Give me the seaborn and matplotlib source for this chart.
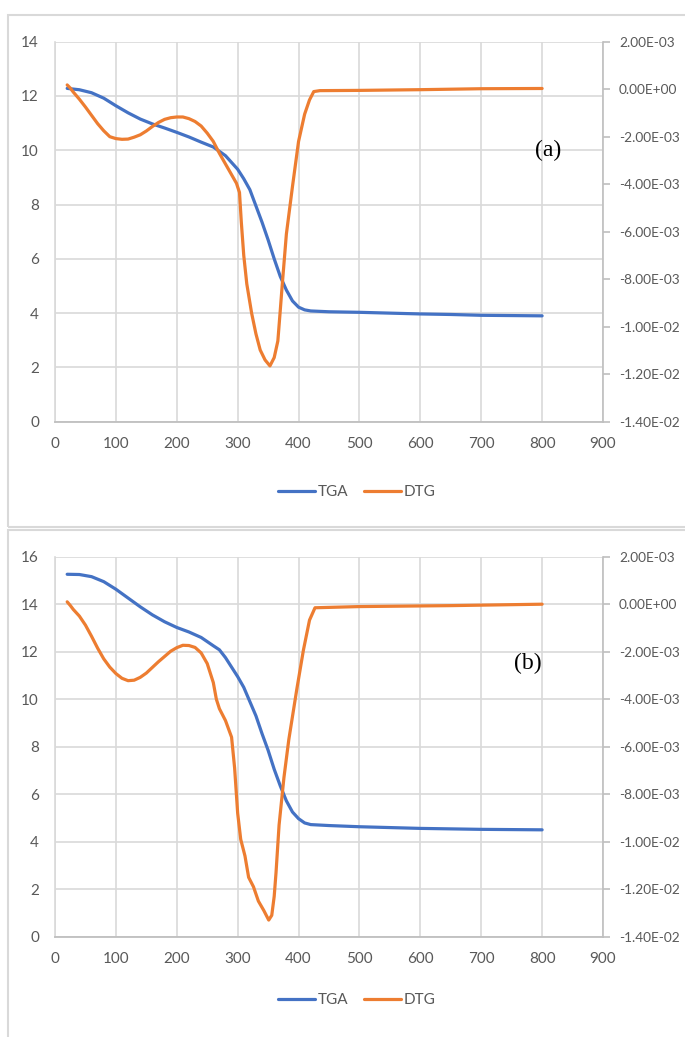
import numpy as np
import matplotlib
matplotlib.use("Agg")
import matplotlib.pyplot as plt
from matplotlib.lines import Line2D
from matplotlib.patches import Rectangle
from matplotlib.ticker import FuncFormatter, MultipleLocator
import seaborn as sns

# ---- data: panel (a) ----
temp_tga_a = [20, 40, 60, 80, 100, 120, 140, 160, 180, 200, 220, 240, 260, 280, 300,
              310, 320, 330, 340, 350, 360, 370, 380, 390, 400, 410, 420, 450, 500,
              550, 600, 650, 700, 750, 800]
tga_a = [12.28, 12.23, 12.12, 11.92, 11.64, 11.38, 11.15, 10.97, 10.82, 10.66, 10.49,
         10.30, 10.12, 9.80, 9.30, 8.95, 8.55, 7.95, 7.35, 6.70, 6.00, 5.35, 4.85, 4.45,
         4.22, 4.12, 4.08, 4.05, 4.03, 4.00, 3.97, 3.95, 3.92, 3.91, 3.90]

temp_dtg_a = [20, 25, 30, 40, 50, 60, 70, 80, 90, 100, 110, 120, 130, 140, 150, 160,
              170, 180, 190, 200, 210, 220, 230, 240, 250, 260, 270, 280, 290, 298,
              303, 306, 310, 315, 323, 330, 337, 345, 353, 360, 366, 370, 373, 380,
              390, 400, 410, 418, 425, 435, 500, 600, 700, 800]
dtg_a_milli = [0.18, 0.05, -0.12, -0.42, -0.75, -1.10, -1.45, -1.75, -2.00, -2.08, -2.11,
               -2.10, -2.02, -1.92, -1.76, -1.57, -1.40, -1.27, -1.20, -1.17, -1.17,
               -1.24, -1.36, -1.55, -1.85, -2.20, -2.70, -3.15, -3.60, -3.96, -4.35,
               -5.60, -7.00, -8.20, -9.44, -10.30, -10.98, -11.40, -11.65, -11.30,
               -10.60, -9.30, -8.30, -6.10, -4.10, -2.20, -1.05, -0.45, -0.10, -0.06,
               -0.05, -0.02, 0.02, 0.03]

# ---- data: panel (b) ----
temp_tga_b = [20, 40, 60, 80, 100, 120, 140, 160, 180, 200, 220, 240, 260, 270, 280,
              290, 300, 310, 320, 330, 340, 350, 360, 370, 380, 390, 400, 410, 420,
              450, 500, 600, 700, 800]
tga_b = [15.26, 15.25, 15.16, 14.95, 14.63, 14.26, 13.89, 13.55, 13.26, 13.02, 12.83,
         12.60, 12.25, 12.08, 11.75, 11.35, 10.95, 10.50, 9.90, 9.30, 8.55, 7.85, 7.05,
         6.35, 5.72, 5.25, 4.97, 4.79, 4.72, 4.68, 4.63, 4.56, 4.52, 4.50]

temp_dtg_b = [20, 25, 30, 40, 50, 60, 70, 80, 90, 100, 110, 120, 130, 140, 150, 160,
              170, 180, 190, 200, 210, 220, 230, 240, 250, 260, 265, 270, 280, 290,
              295, 300, 305, 312, 318, 326, 334, 343, 351, 356, 360, 363, 368, 376,
              384, 397, 408, 418, 427, 500, 650, 800]
dtg_b_milli = [0.10, -0.05, -0.22, -0.50, -0.88, -1.35, -1.85, -2.30, -2.65, -2.92,
               -3.12, -3.22, -3.20, -3.08, -2.90, -2.66, -2.42, -2.20, -1.98, -1.83,
               -1.73, -1.74, -1.82, -2.05, -2.50, -3.30, -4.00, -4.40, -4.90, -5.60,
               -6.90, -8.80, -9.90, -10.60, -11.50, -11.90, -12.50, -12.90, -13.30,
               -13.10, -12.30, -11.30, -9.30, -7.30, -5.70, -3.60, -1.93, -0.67, -0.15,
               -0.10, -0.06, 0.00]

panel_labels = ["(a)", "(b)"]
series_names = ["TGA", "DTG"]
x_ticks = list(range(0, 1000, 100))
dtg_ticks_milli = [2, 0, -2, -4, -6, -8, -10, -12, -14]

# ---- styling ----
sns.set_theme(style="white")
plt.rcParams["font.family"] = ["Lato", "DejaVu Sans"]

TGA_COLOR = "#4472C4"
DTG_COLOR = "#ED7D31"
GRID = "#D9D9D9"
AXIS = "#BFBFBF"
TEXT = "#595959"
FS = 11
FS_RIGHT = 9.8

W, H = 685, 1037
fig = plt.figure(figsize=(W / 100, H / 100), dpi=100)


def fx(px):
    return px / W


def fy(py):
    return 1 - py / H


def sci(v, _pos=None):
    return f"{v:.2E}"


def draw_panel(top_px, bot_px, temps_t, tga, temps_d, dtg_milli, ymax, label, label_pos):
    left, right = 55, 603
    ax = fig.add_axes([fx(left), fy(bot_px), (right - left) / W, (bot_px - top_px) / H])
    ax2 = ax.twinx()

    sns.lineplot(x=temps_t, y=tga, ax=ax, color=TGA_COLOR, linewidth=2.3, legend=False)
    sns.lineplot(x=temps_d, y=np.array(dtg_milli) * 1e-3, ax=ax2, color=DTG_COLOR,
                 linewidth=2.3, legend=False)

    ax.set_xlim(0, 900)
    ax.set_ylim(0, ymax)
    ax.set_xticks(x_ticks)
    ax.yaxis.set_major_locator(MultipleLocator(2))
    ax.grid(True, color=GRID, linewidth=1.2)
    ax.set_axisbelow(True)
    for side in ("top", "right"):
        ax.spines[side].set_visible(False)
    ax.spines["left"].set_color(GRID)
    ax.spines["left"].set_linewidth(1.2)
    ax.spines["bottom"].set_color(AXIS)
    ax.spines["bottom"].set_linewidth(1.3)
    ax.tick_params(axis="y", length=0, pad=11.5, labelsize=FS, labelcolor=TEXT)
    ax.tick_params(axis="x", length=0, pad=11, labelsize=FS, labelcolor=TEXT)
    ax.set_xlabel("")
    ax.set_ylabel("")

    ax2.set_ylim(-14e-3, 2e-3)
    ax2.set_yticks([v * 1e-3 for v in dtg_ticks_milli])
    ax2.yaxis.set_major_formatter(FuncFormatter(sci))
    ax2.grid(False)
    for side in ("top", "left", "bottom"):
        ax2.spines[side].set_visible(False)
    ax2.spines["right"].set_color(AXIS)
    ax2.spines["right"].set_linewidth(1.2)
    ax2.tick_params(axis="y", direction="out", length=5, width=1.2, color=AXIS,
                    pad=6.5, labelsize=FS_RIGHT, labelcolor=TEXT)
    ax2.set_ylabel("")

    ax.text(label_pos[0], label_pos[1], label, transform=ax.transAxes,
            family="Liberation Serif", fontsize=17, color="black",
            ha="center", va="center")
    return ax, ax2


draw_panel(41.7, 421.7, temp_tga_a, tga_a, temp_dtg_a, dtg_a_milli, 14,
           panel_labels[0], (0.90, 0.715))
draw_panel(556.7, 936.7, temp_tga_b, tga_b, temp_dtg_b, dtg_b_milli, 16,
           panel_labels[1], (0.863, 0.72))

# legends under each chart
handles = [Line2D([], [], color=TGA_COLOR, linewidth=2.3),
           Line2D([], [], color=DTG_COLOR, linewidth=2.3)]
for ly in (492, 1000):
    fig.legend(handles, series_names, loc="center", bbox_to_anchor=(fx(357), fy(ly)),
               ncol=2, frameon=False, fontsize=FS, labelcolor=TEXT,
               handlelength=2.4, handletextpad=0.2, columnspacing=1.0)

# chart-area borders
fig.add_artist(Rectangle((fx(8), fy(527)), fx(700), fy(15) - fy(527),
                         transform=fig.transFigure, fill=False,
                         edgecolor=GRID, linewidth=1.5))
fig.add_artist(Rectangle((fx(8), fy(1060)), fx(700), fy(530) - fy(1060),
                         transform=fig.transFigure, fill=False,
                         edgecolor=GRID, linewidth=1.5))

fig.savefig("out.png", dpi=100)
